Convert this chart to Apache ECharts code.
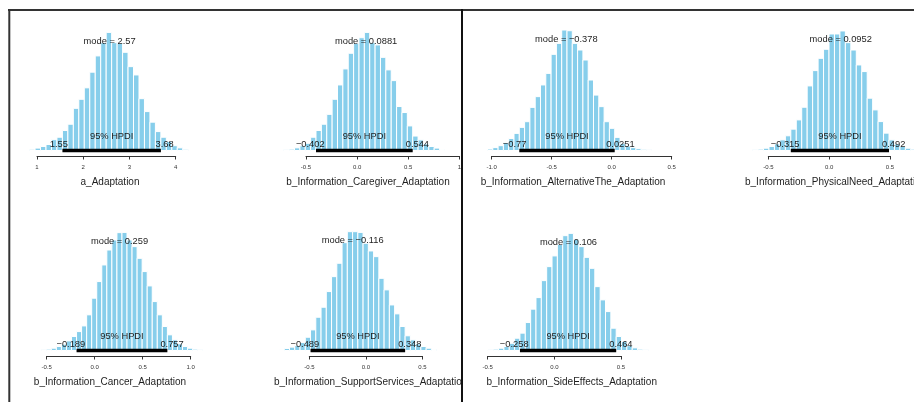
<!DOCTYPE html>
<html><head><meta charset="utf-8">
<script src="https://cdn.jsdelivr.net/npm/echarts@6/dist/echarts.min.js"></script>
<style>html,body{margin:0;padding:0;background:#fff}#c{width:914px;height:402px}</style>
</head><body><div id="c"></div>
<script>
// ---------- data ----------
const panelNames = [
  'a_Adaptation',
  'b_Information_Caregiver_Adaptation',
  'b_Information_AlternativeThe_Adaptation',
  'b_Information_PhysicalNeed_Adaptation',
  'b_Information_Cancer_Adaptation',
  'b_Information_SupportServices_Adaptation',
  'b_Information_SideEffects_Adaptation'
];
const modes    = [2.57, 0.0881, -0.378, 0.0952, 0.259, -0.116, 0.106];
const hpdiLow  = [1.55, -0.402, -0.77, -0.315, -0.189, -0.489, -0.258];
const hpdiHigh = [3.68, 0.544, 0.0251, 0.492, 0.757, 0.348, 0.464];
const binStart = [0.84, -0.7174, -1.035, -0.6288, -0.5569, -0.768, -0.4987];
const binWidth = [0.1183, 0.05256, 0.04417, 0.04483, 0.05256, 0.0465, 0.04011];

const counts1 = [1, 2, 3.3, 5, 9, 11, 16.6, 21.8, 35, 42.5, 52, 65, 78.5, 89.5, 98, 89.5, 89, 81.5, 69.6, 62.7, 43, 32.3, 23.5, 15.7, 11, 7.5, 4, 2.2, 1];
const counts2 = [0.6, 1.1, 2.2, 3.9, 6, 11, 16.6, 21.8, 30, 42.5, 54.4, 67.7, 80.7, 89, 93.6, 98, 89.5, 87.6, 77.3, 66.9, 58, 36.5, 31.5, 20.4, 12, 8.8, 5.5, 3.3, 2, 0.8];
const counts3 = [1.2, 2.4, 4, 6.5, 10, 14.2, 19.2, 23.9, 35.8, 44.7, 54.4, 64, 79.8, 88.9, 100, 99.4, 88.9, 83.4, 75.1, 58.5, 46, 36.4, 23.9, 18.4, 10.9, 6, 3.7, 2.4, 1.5, 1, 0.6];
const counts4 = [0.6, 1.1, 1.9, 3.3, 5.5, 8.8, 12.2, 17.7, 25.4, 35.9, 53.6, 66.3, 76.5, 84, 96.7, 96.7, 99.2, 89.5, 83.4, 71, 65.5, 43.4, 33.7, 24, 14.4, 8.8, 5.5, 3.3, 1.9, 1.1];
const counts5 = [0.6, 1.1, 1.9, 3.3, 5.2, 8, 11.6, 15.7, 20.4, 29.6, 43.4, 57.2, 71, 83.4, 91.7, 97.8, 98, 91.7, 86.2, 76.5, 65.5, 53.6, 40.6, 29.6, 19.9, 13, 8.8, 5.5, 3.3, 1.9, 1.1, 0.6];
const counts6 = [0.8, 1.7, 2.8, 4.1, 6.6, 11, 17.1, 27.6, 35.9, 48.9, 61.3, 72.4, 89.5, 98.6, 98.6, 98, 89, 82.6, 77.9, 59.9, 50.3, 37.8, 30.4, 19.9, 12.2, 8.8, 5.5, 3.3, 1.9, 0.8];
const counts7 = [0.6, 1.1, 1.9, 3.3, 6, 10.2, 14.4, 23.2, 34.3, 43.9, 58, 69.6, 78.5, 88.1, 95.3, 97.2, 92.3, 86.2, 77.3, 68.2, 53, 42, 32.3, 18.5, 11.6, 7.5, 4, 2.2, 1.1, 0.6];
const allCounts = [counts1, counts2, counts3, counts4, counts5, counts6, counts7];

const axisMin  = [1, -0.5, -1.0, -0.5, -0.5, -0.5, -0.5];
const axisMax  = [4, 1, 0.5, 0.5, 1.0, 0.5, 0.5];
const tickStep = [1, 0.5, 0.5, 0.5, 0.5, 0.5, 0.5];
const ticks1 = ['1', '2', '3', '4'];
const ticks2 = ['-0.5', '0.0', '0.5', '1'];
const ticks3 = ['-1.0', '-0.5', '0.0', '0.5'];
const ticks4 = ['-0.5', '0.0', '0.5'];
const ticks5 = ['-0.5', '0.0', '0.5', '1.0'];
const ticks6 = ['-0.5', '0.0', '0.5'];
const ticks7 = ['-0.5', '0.0', '0.5'];
const allTicks = [ticks1, ticks2, ticks3, ticks4, ticks5, ticks6, ticks7];

// ---------- layout ----------
const layout = [
  {left: 37,    width: 138.7, top: 30,  titleX: 110,   titleAlign: 'center'},
  {left: 306,   width: 153.3, top: 30,  titleX: 368,   titleAlign: 'center'},
  {left: 491.7, width: 180,   top: 30,  titleX: 573,   titleAlign: 'center'},
  {left: 768.3, width: 121.7, top: 30,  titleX: 745,   titleAlign: 'left'},
  {left: 46.7,  width: 144,   top: 230, titleX: 110,   titleAlign: 'center'},
  {left: 309.3, width: 113,   top: 230, titleX: 274,   titleAlign: 'left'},
  {left: 487.7, width: 133.3, top: 230, titleX: 571.7, titleAlign: 'center'}
];
const GRID_H = 120.5;
const FONT = '"Liberation Sans", Arial, sans-serif';
const TXT_SIZE = 9.3;
const TXT_COLOR = '#1e1e1e';

const measCtx = document.createElement('canvas').getContext('2d');
function textW(t, size) { measCtx.font = size + 'px ' + FONT; return measCtx.measureText(t).width; }
function fmt(v) { return String(v).replace('-', '\u2212'); }
function txt(t, x, y, align) {
  return {type: 'text', style: {text: t, x: x, y: y, fill: TXT_COLOR, fontSize: TXT_SIZE, fontFamily: FONT,
    align: align || 'center', verticalAlign: 'middle', textAlign: align || 'center', textVerticalAlign: 'middle'}};
}

const grids = [], xAxes = [], yAxes = [], series = [], graphics = [];
panelNames.forEach((name, i) => {
  const L = layout[i];
  grids.push({left: L.left, top: L.top, width: L.width, height: GRID_H});
  xAxes.push({
    type: 'value', gridIndex: i, min: axisMin[i], max: axisMax[i], interval: tickStep[i], offset: 5.5,
    axisLine: {show: true, onZero: false, lineStyle: {color: '#333', width: 1}},
    axisTick: {show: true, length: 3.5, lineStyle: {color: '#333', width: 1}},
    splitLine: {show: false},
    axisLabel: {fontSize: 6, color: '#333', fontFamily: FONT, margin: 8,
      showMinLabel: true, showMaxLabel: true,
      formatter: (v) => { const k = Math.round((v - axisMin[i]) / tickStep[i]); return allTicks[i][k] !== undefined ? allTicks[i][k] : ''; }}
  });
  yAxes.push({type: 'value', gridIndex: i, min: 0, max: 100, show: false});

  const cs = allCounts[i];
  const histData = cs.map((c, k) => [binStart[i] + k * binWidth[i], binStart[i] + (k + 1) * binWidth[i], c]);
  series.push({
    type: 'custom', xAxisIndex: i, yAxisIndex: i, clip: false, z: 2,
    data: histData,
    renderItem: (params, api) => {
      const p0 = api.coord([api.value(0), 0]);
      const p1 = api.coord([api.value(1), api.value(2)]);
      return {type: 'rect', shape: {x: p0[0], y: p1[1], width: p1[0] - p0[0], height: p0[1] - p1[1]},
        style: {fill: '#87CEEB', stroke: '#ffffff', lineWidth: 1}};
    }
  });
  const modeH = 0.9 * Math.max.apply(null, cs);
  const loLab = fmt(hpdiLow[i]), hiLab = fmt(hpdiHigh[i]);
  const modeLab = 'mode = ' + fmt(modes[i]);
  series.push({
    type: 'custom', xAxisIndex: i, yAxisIndex: i, clip: false, z: 5,
    data: [[hpdiLow[i], hpdiHigh[i], modes[i], modeH]],
    renderItem: (params, api) => {
      const a = api.coord([api.value(0), 0]);
      const b = api.coord([api.value(1), 0]);
      const m = api.coord([api.value(2), api.value(3)]);
      const y0 = a[1];
      return {type: 'group', children: [
        {type: 'line', shape: {x1: a[0], y1: y0, x2: b[0], y2: y0}, style: {stroke: '#000', lineWidth: 3.5, lineCap: 'butt'}},
        txt('95% HPDI', (a[0] + b[0]) / 2, y0 - 14.5),
        txt(loLab, a[0] - 0.2 * textW(loLab, TXT_SIZE), y0 - 6.5),
        txt(hiLab, b[0] + 0.2 * textW(hiLab, TXT_SIZE), y0 - 6.5),
        txt(modeLab, m[0], m[1] - 3)
      ]};
    }
  });
  graphics.push({type: 'text', z: 10, style: {text: name, x: L.titleX, y: L.top + GRID_H + 31.5,
    fill: TXT_COLOR, fontSize: 10, fontFamily: FONT,
    align: L.titleAlign, verticalAlign: 'middle', textAlign: L.titleAlign, textVerticalAlign: 'middle'}});
});

// the left half of the composite is cut at the divider: hide title overflow there
graphics.push({type: 'rect', z: 15, shape: {x: 462, y: 372, width: 22, height: 20}, style: {fill: '#ffffff'}});
graphics.push({type: 'line', z: 20, shape: {x1: 8, y1: 10, x2: 914, y2: 10}, style: {stroke: '#333', lineWidth: 2}});
graphics.push({type: 'line', z: 20, shape: {x1: 9.3, y1: 9, x2: 9.3, y2: 402}, style: {stroke: '#333', lineWidth: 2}});
graphics.push({type: 'line', z: 20, shape: {x1: 462, y1: 9, x2: 462, y2: 402}, style: {stroke: '#111', lineWidth: 2}});

const chart = echarts.init(document.getElementById('c'), null, {renderer: 'canvas'});
chart.setOption({
  animation: false,
  backgroundColor: '#ffffff',
  grid: grids, xAxis: xAxes, yAxis: yAxes, series: series, graphic: graphics
});
</script></body></html>
